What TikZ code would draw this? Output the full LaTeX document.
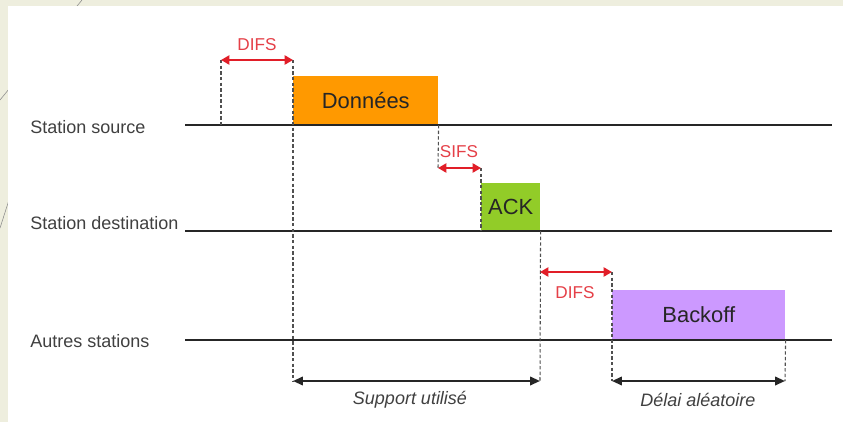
\documentclass[tikz,border=0pt]{standalone}
\usepackage{fontspec}
\setmainfont{Liberation Sans}
\usetikzlibrary{arrows.meta,positioning}
\usepackage{xcolor}

\definecolor{pagebg}{RGB}{238,238,222}
\definecolor{datorange}{RGB}{255,153,0}
\definecolor{ackgreen}{RGB}{146,204,40}
\definecolor{bkfviolet}{RGB}{204,153,255}
\definecolor{ifsred}{RGB}{225,30,40}
\definecolor{txtgrey}{RGB}{64,64,64}
\definecolor{dashgrey}{RGB}{80,80,80}

\tikzset{
  stationlbl/.style={anchor=west,inner sep=0pt,text=txtgrey,font=\fontsize{12.8}{14}\selectfont},
  frame/.style={anchor=south west,inner sep=0pt,text=black!85,font=\fontsize{15.6}{17}\selectfont},
  timeline/.style={line width=1.4pt,black!85},
  guide/.style={dashgrey,line width=0.75pt,dash pattern=on 2.4pt off 1.6pt},
  ifs/.style={{Triangle[length=6pt,width=6.5pt]}-{Triangle[length=6pt,width=6.5pt]},line width=1.5pt,ifsred},
  ifslbl/.style={text=ifsred!85,font=\fontsize{12.2}{14}\selectfont,inner sep=0pt},
  span/.style={{Triangle[length=7pt,width=6pt]}-{Triangle[length=7pt,width=6pt]},line width=1.4pt,black!85},
  spanlbl/.style={text=txtgrey,font=\fontsize{12.8}{14}\selectfont\itshape,inner sep=0pt}
}

\begin{document}
\begin{tikzpicture}[x=0.025cm,y=-0.025cm,>=Stealth]
  \useasboundingbox (0,0) rectangle (843,422);
  % page background
  \fill[pagebg] (0,0) rectangle (843,422);
  \draw[black!45,line width=0.4pt] (0,100) -- (82,0);
  \draw[black!45,line width=0.4pt] (0,228) -- (9,200);
  \fill[white] (8,6) rectangle (843,422);

  % stations
  \node[stationlbl] (src) at (30,127) {Station source};
  \node[stationlbl] (dst) at (30,223) {Station destination};
  \node[stationlbl] (oth) at (30,341) {Autres stations};
  \coordinate (srcA) at (185,125); \coordinate (srcB) at (832,125);
  \coordinate (dstA) at (185,231); \coordinate (dstB) at (832,231);
  \coordinate (othA) at (185,340); \coordinate (othB) at (832,340);

  % frames
  \node[frame,fill=datorange,minimum width=3.625cm,minimum height=1.225cm] (data) at (293,125) {Données};
  \node[frame,fill=ackgreen,minimum width=1.475cm,minimum height=1.2cm] (ack) at (481,231) {ACK};
  \node[frame,fill=bkfviolet,minimum width=4.325cm,minimum height=1.25cm] (bkf) at (612,340) {Backoff};

  \draw[timeline] (srcA) -- (srcB);
  \draw[timeline] (dstA) -- (dstB);
  \draw[timeline] (othA) -- (othB);

  % interframe spaces
  \coordinate (difs1A) at (221,60); \coordinate (difs1B) at (293,60);
  \coordinate (sifsA) at (438,168); \coordinate (sifsB) at (481,168);
  \coordinate (difs2A) at (540,272); \coordinate (difs2B) at (612,272);
  \coordinate (sup1) at (293,381); \coordinate (sup2) at (540,381);
  \coordinate (del1) at (612,381); \coordinate (del2) at (785,381);

  \draw[guide] (difs1A) -- (difs1A |- srcA);
  \draw[guide] (difs1B) -- (sup1);
  \draw[guide] (data.south east) -- (sifsA);
  \draw[guide] (sifsB) -- (ack.south west);
  \draw[guide] (ack.south east) -- (sup2);
  \draw[guide] (difs2B) -- (del1);
  \draw[guide] (bkf.south east) -- (del2);

  \draw[ifs] (difs1A) -- (difs1B);
  \draw[ifs] (sifsA) -- (sifsB);
  \draw[ifs] (difs2A) -- (difs2B);
  \node[ifslbl] (difs1) at (257,45) {DIFS};
  \node[ifslbl] (sifs) at (459,152) {SIFS};
  \node[ifslbl] (difs2) at (575,293) {DIFS};

  \draw[span] (sup1) -- (sup2);
  \draw[span] (del1) -- (del2);
  \node[spanlbl] (suplbl) at (410,400) {Support utilisé};
  \node[spanlbl] (dellbl) at (698,400) {Délai aléatoire};
\end{tikzpicture}
\end{document}
